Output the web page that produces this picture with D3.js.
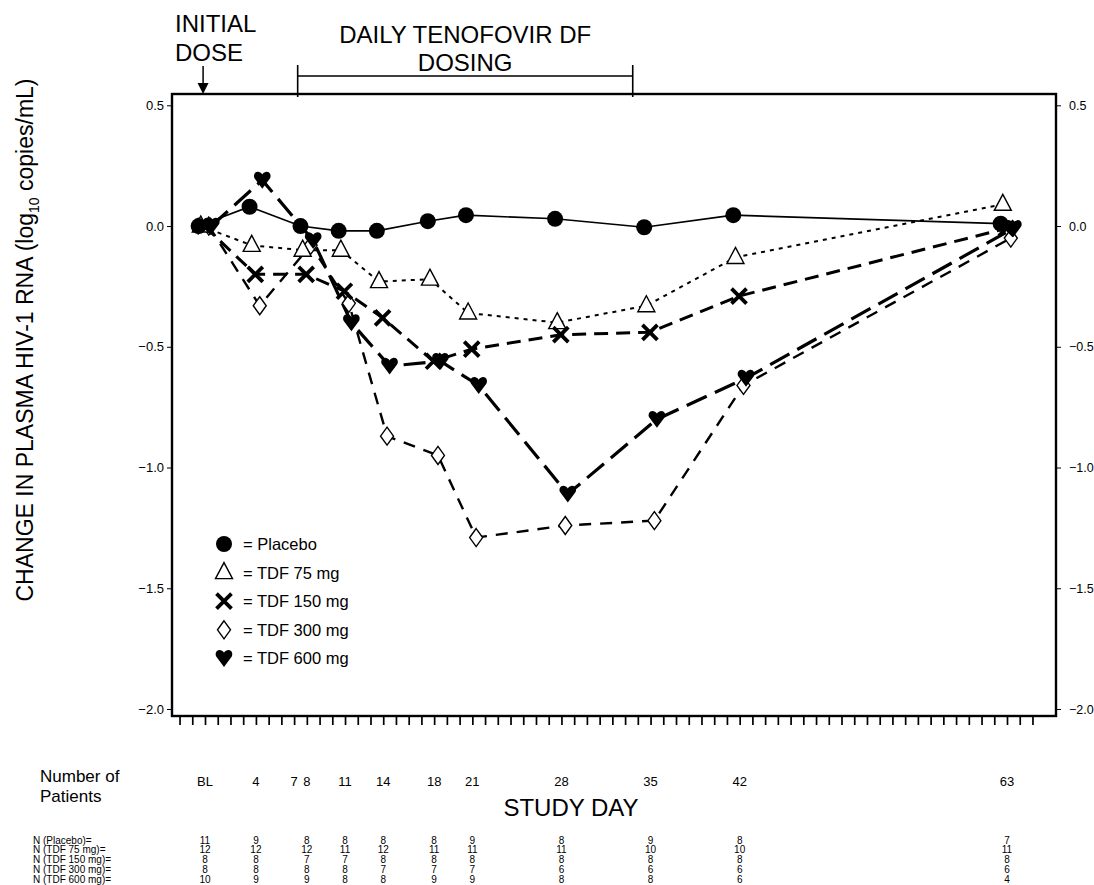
<!DOCTYPE html>
<html lang="en">
<head>
<meta charset="UTF-8">
<title>Change in plasma HIV-1 RNA</title>
<style>
  body { margin: 0; background: #fff; }
  svg { display: block; font-family: "Liberation Sans", Arial, sans-serif; }
</style>
</head>
<body>
<script src="https://d3js.org/d3.v7.min.js"></script>
<div id="chart"></div>
<script>
// study days of the visits
const days = [0, 4, 8, 11, 14, 18, 21, 28, 35, 42, 63];
// groups are drawn a little apart on each visit day (in days)
const dayShift = [-0.5, -0.33, -0.05, 0.3, 0.5];

const seriesNames = ["Placebo", "TDF 75 mg", "TDF 150 mg", "TDF 300 mg", "TDF 600 mg"];
const placebo = [0, 0.08, 0.0, -0.02, -0.02, 0.02, 0.045, 0.03, -0.005, 0.045, 0.01];
const tdf75   = [0, -0.08, -0.10, -0.10, -0.23, -0.22, -0.36, -0.40, -0.33, -0.13, 0.09];
const tdf150  = [0, -0.20, -0.20, -0.27, -0.38, -0.56, -0.51, -0.45, -0.44, -0.29, -0.01];
const tdf300  = [0, -0.33, -0.08, -0.32, -0.87, -0.95, -1.29, -1.24, -1.22, -0.66, -0.05];
const tdf600  = [0, 0.19, -0.06, -0.40, -0.58, -0.56, -0.66, -1.11, -0.80, -0.63, -0.01];

// x tick labels
const tickDays   = [0, 4, 7, 8, 11, 14, 18, 21, 28, 35, 42, 63];
const tickLabels = ["BL", "4", "7", "8", "11", "14", "18", "21", "28", "35", "42", "63"];
const yTicks = [0.5, 0.0, -0.5, -1.0, -1.5, -2.0];

// number of patients table
const rowLabels = ["N (Placebo)=", "N (TDF 75 mg)=", "N (TDF 150 mg)=", "N (TDF 300 mg)=", "N (TDF 600 mg)="];
const nPlacebo = [11, 9, 8, 8, 8, 8, 9, 8, 9, 8, 7];
const n75      = [12, 12, 12, 11, 12, 11, 11, 11, 10, 10, 11];
const n150     = [8, 8, 7, 7, 8, 8, 8, 8, 8, 8, 8];
const n300     = [8, 8, 8, 8, 7, 7, 7, 6, 6, 6, 6];
const n600     = [10, 9, 9, 8, 8, 9, 9, 8, 8, 6, 4];

// dosing annotation (study days)
const initialDoseDay = -0.15;
const dosingPeriod = [7.28, 33.6];

const W = 1094, H = 885;
const frame = {left: 172, right: 1056, top: 94, bottom: 716};

const svg = d3.select("#chart").append("svg")
  .attr("width", W).attr("height", H);

const x = d3.scaleLinear().domain([0, 63]).range([205, 1007]);
const y = d3.scaleLinear().domain([0.5, -2.0]).range([105.3, 709]);

// frame
svg.append("rect")
  .attr("x", frame.left).attr("y", frame.top)
  .attr("width", frame.right - frame.left).attr("height", frame.bottom - frame.top)
  .attr("fill", "none").attr("stroke", "#000").attr("stroke-width", 2.4);

// left and right axes
const fmt = d3.format(".1f");
svg.append("g")
  .attr("transform", `translate(${frame.left},0)`)
  .call(d3.axisLeft(y).tickValues(yTicks).tickFormat(fmt).tickSize(5).tickPadding(3))
  .call(g => g.select(".domain").remove())
  .call(g => g.selectAll("text").attr("font-size", 13).attr("font-family", "Liberation Sans, Arial, sans-serif"));
svg.append("g")
  .attr("transform", `translate(${frame.right},0)`)
  .call(d3.axisRight(y).tickValues(yTicks).tickFormat(fmt).tickSize(5).tickPadding(8))
  .call(g => g.select(".domain").remove())
  .call(g => g.selectAll("text").attr("font-size", 12.5).attr("font-family", "Liberation Sans, Arial, sans-serif"));

// bottom minor ticks, one per day
svg.append("g")
  .attr("transform", `translate(0,${frame.bottom})`)
  .call(d3.axisBottom(x).tickValues(d3.range(-2, 66)).tickFormat("").tickSize(9))
  .call(g => g.select(".domain").remove())
  .call(g => g.selectAll("line").attr("stroke-width", 1.7));

// tick labels
svg.append("g").selectAll("text")
  .data(tickDays)
  .join("text")
  .attr("x", d => x(d))
  .attr("y", 786)
  .attr("text-anchor", "middle")
  .attr("font-size", 13)
  .text((d, i) => tickLabels[i]);

// axis titles
svg.append("text")
  .attr("x", 571).attr("y", 816)
  .attr("text-anchor", "middle").attr("font-size", 24)
  .text("STUDY DAY");

const yTitle = svg.append("text")
  .attr("transform", "translate(33,340) rotate(-90)")
  .attr("text-anchor", "middle").attr("font-size", 23);
yTitle.append("tspan").text("CHANGE IN PLASMA HIV-1 RNA (log");
yTitle.append("tspan").attr("font-size", 14).attr("dy", 6).text("10");
yTitle.append("tspan").attr("dy", -6).text(" copies/mL)");

// top annotations
svg.append("text").attr("x", 175).attr("y", 32).attr("font-size", 24).text("INITIAL");
svg.append("text").attr("x", 175).attr("y", 61).attr("font-size", 24).text("DOSE");
svg.append("line")
  .attr("x1", x(initialDoseDay)).attr("x2", x(initialDoseDay))
  .attr("y1", 66).attr("y2", 86)
  .attr("stroke", "#000").attr("stroke-width", 1.5);
svg.append("path")
  .attr("d", `M${x(initialDoseDay) - 5.5},83 L${x(initialDoseDay) + 5.5},83 L${x(initialDoseDay)},${frame.top} Z`)
  .attr("fill", "#000");

const midDose = (x(dosingPeriod[0]) + x(dosingPeriod[1])) / 2;
svg.append("text").attr("x", midDose).attr("y", 43).attr("text-anchor", "middle").attr("font-size", 24).text("DAILY TENOFOVIR DF");
svg.append("text").attr("x", midDose).attr("y", 71).attr("text-anchor", "middle").attr("font-size", 24).text("DOSING");
svg.append("path")
  .attr("d", `M${x(dosingPeriod[0])},65 V${frame.top + 3} M${x(dosingPeriod[1])},65 V${frame.top + 3} M${x(dosingPeriod[0])},76 H${x(dosingPeriod[1])}`)
  .attr("fill", "none").attr("stroke", "#000").attr("stroke-width", 1.6);

// markers
const marker = {
  circle: g => g.append("circle").attr("r", 8).attr("fill", "#000"),
  triangle: g => g.append("path").attr("d", "M0,-10 L8.5,6 L-8.5,6 Z")
    .attr("fill", "#fff").attr("stroke", "#000").attr("stroke-width", 1.4),
  cross: g => g.append("path").attr("d", "M-7.5,-7.5 L7.5,7.5 M-7.5,7.5 L7.5,-7.5")
    .attr("stroke", "#000").attr("stroke-width", 3.8).attr("fill", "none"),
  diamond: g => g.append("path").attr("d", "M0,-9 L6.5,0 L0,9 L-6.5,0 Z")
    .attr("fill", "#fff").attr("stroke", "#000").attr("stroke-width", 1.4),
  heart: g => g.append("path")
    .attr("d", "M0,8.5 L-7.8,-2 C-9.3,-5 -7.3,-8.7 -4,-8.3 C-2,-8 -0.7,-6.7 0,-5.7 C0.7,-6.7 2,-8 4,-8.3 C7.3,-8.7 9.3,-5 7.8,-2 Z")
    .attr("fill", "#000")
};

const series = [
  {values: placebo, shape: "circle", dash: null, width: 1.6},
  {values: tdf75, shape: "triangle", dash: "4,5", width: 2},
  {values: tdf150, shape: "cross", dash: "14,8", width: 3},
  {values: tdf300, shape: "diamond", dash: "12,9", width: 2.4},
  {values: tdf600, shape: "heart", dash: "22,9", width: 3.2}
];

const line = d3.line().x(d => x(d[0])).y(d => y(d[1]));

series.forEach((s, k) => {
  s.pts = s.values.map((v, i) => [days[i] + dayShift[k], v]);
  svg.append("path")
    .datum(s.pts)
    .attr("d", line)
    .attr("fill", "none")
    .attr("stroke", "#000")
    .attr("stroke-width", s.width)
    .attr("stroke-dasharray", s.dash);
});

// markers on top
[3, 1, 2, 4, 0].forEach(k => {
  const s = series[k];
  s.pts.forEach(p => {
    const g = svg.append("g").attr("transform", `translate(${x(p[0])},${y(p[1])})`);
    marker[s.shape](g);
  });
});

// legend
const legend = svg.append("g");
seriesNames.forEach((name, i) => {
  const yy = 550 + i * 28.6;
  const g = legend.append("g").attr("transform", `translate(224,${yy - 6})`);
  marker[series[i].shape](g);
  legend.append("text").attr("x", 243).attr("y", yy).attr("font-size", 16.5).text("= " + name);
});

// number of patients
svg.append("text").attr("x", 40).attr("y", 782).attr("font-size", 17).text("Number of");
svg.append("text").attr("x", 40).attr("y", 802).attr("font-size", 17).text("Patients");

const counts = [nPlacebo, n75, n150, n300, n600];
rowLabels.forEach((lab, r) => {
  const yy = 843.5 + r * 9.8;
  svg.append("text").attr("x", 33).attr("y", yy).attr("font-size", 10).text(lab);
  svg.append("g").selectAll("text")
    .data(counts[r])
    .join("text")
    .attr("x", (d, i) => x(days[i]))
    .attr("y", yy)
    .attr("text-anchor", "middle")
    .attr("font-size", 10)
    .text(d => d);
});
</script>
</body>
</html>
